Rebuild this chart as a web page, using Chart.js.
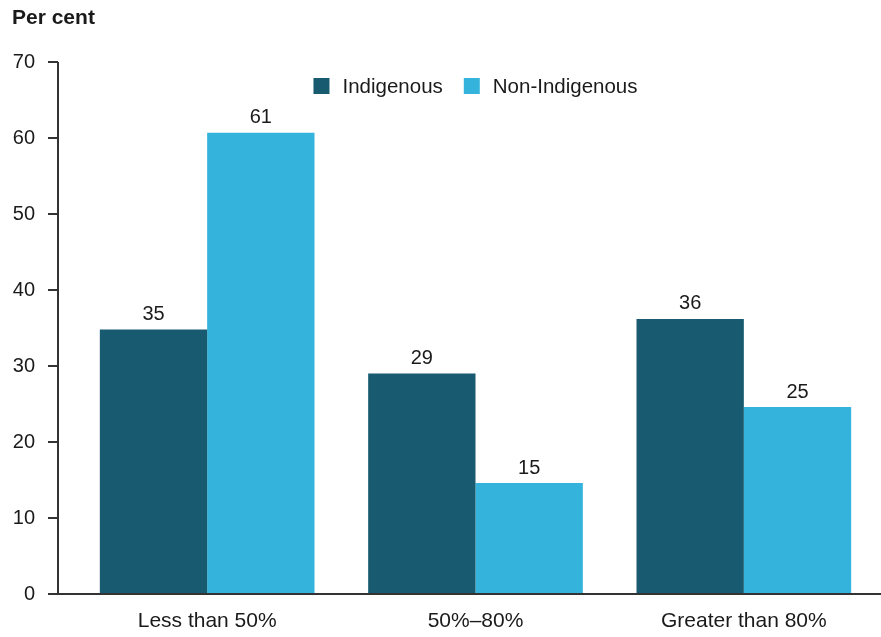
<!DOCTYPE html>
<html lang="en">
<head>
<meta charset="UTF-8">
<title>Per cent by group</title>
<script src="https://cdn.jsdelivr.net/npm/chart.js"></script>
<style>
  body { margin: 0; background: #fff; }
  #wrap { width: 881px; height: 637px; }
</style>
</head>
<body>
<div id="wrap"><canvas id="chart"></canvas></div>
<script>
const categories = ['Less than 50%', '50%\u201380%', 'Greater than 80%'];
const indigenous = [34.8, 29.0, 36.2];
const nonIndigenous = [60.7, 14.6, 24.6];
const yTicks = [0, 10, 20, 30, 40, 50, 60, 70];

const FONT = 'Arial, "Liberation Sans", sans-serif';
const TEXT = '#1a1a1a';
const AXIS = '#333';
const GAP = 15;   // y axis line sits left of the first category

// axis lines, title, value labels and legend
const extras = {
  id: 'extras',
  afterDatasetsDraw(chart) {
    const ctx = chart.ctx, y = chart.scales.y, a = chart.chartArea;
    const x0 = a.left - GAP;
    ctx.save();
    ctx.strokeStyle = AXIS;
    ctx.lineWidth = 2;
    ctx.beginPath();
    ctx.moveTo(x0, y.getPixelForValue(yTicks[yTicks.length - 1]));
    ctx.lineTo(x0, y.getPixelForValue(0));
    yTicks.forEach(t => {
      const py = y.getPixelForValue(t);
      ctx.moveTo(x0 - 10, py);
      ctx.lineTo(x0, py);
    });
    ctx.moveTo(x0, y.getPixelForValue(0));
    ctx.lineTo(chart.width, y.getPixelForValue(0));
    ctx.stroke();

    ctx.fillStyle = TEXT;
    ctx.font = 'bold 21px ' + FONT;
    ctx.textAlign = 'left';
    ctx.textBaseline = 'middle';
    ctx.fillText('Per cent', 12, 18);

    ctx.font = '20px ' + FONT;
    ctx.textAlign = 'center';
    ctx.textBaseline = 'bottom';
    chart.data.datasets.forEach((ds, i) => {
      chart.getDatasetMeta(i).data.forEach((bar, j) => {
        ctx.fillText(Math.round(ds.data[j]), bar.x, bar.y - 5);
      });
    });

    ctx.font = '20.5px ' + FONT;
    const box = 16, pad = 13, between = 21;
    const items = chart.data.datasets.map(ds => ({ label: ds.label, color: ds.backgroundColor, w: ctx.measureText(ds.label).width }));
    const total = items.reduce((s, it) => s + box + pad + it.w, 0) + between * (items.length - 1);
    let lx = (a.left + a.right) / 2 - total / 2;
    const ly = a.top + 24;
    ctx.textAlign = 'left';
    ctx.textBaseline = 'middle';
    items.forEach(it => {
      ctx.fillStyle = it.color;
      ctx.fillRect(lx, ly - box / 2, box, box);
      ctx.fillStyle = TEXT;
      ctx.fillText(it.label, lx + box + pad, ly + 1);
      lx += box + pad + it.w + between;
    });
    ctx.restore();
  }
};

new Chart(document.getElementById('chart'), {
  type: 'bar',
  data: {
    labels: categories,
    datasets: [
      { label: 'Indigenous', data: indigenous, backgroundColor: '#185a6f' },
      { label: 'Non-Indigenous', data: nonIndigenous, backgroundColor: '#34b3dc' }
    ]
  },
  options: {
    responsive: true,
    maintainAspectRatio: false,
    animation: false,
    layout: { padding: { top: 62, right: 3, left: 0, bottom: 0 } },
    datasets: { bar: { categoryPercentage: 0.8, barPercentage: 1.0 } },
    plugins: {
      legend: { display: false },
      tooltip: { enabled: false }
    },
    scales: {
      x: {
        grid: { display: false, drawTicks: false },
        border: { display: false },
        ticks: { color: TEXT, font: { family: FONT, size: 21 }, padding: 15, maxRotation: 0 },
        afterFit: s => { s.height = 43; }
      },
      y: {
        min: 0, max: 70,
        afterBuildTicks: s => { s.ticks = yTicks.map(v => ({ value: v })); },
        grid: { display: false, drawTicks: false },
        border: { display: false },
        ticks: { color: TEXT, font: { family: FONT, size: 20 }, padding: 38 },
        afterFit: s => { s.width = 73; s.paddingTop = 0; s.paddingBottom = 0; }
      }
    }
  },
  plugins: [extras]
});
</script>
</body>
</html>
